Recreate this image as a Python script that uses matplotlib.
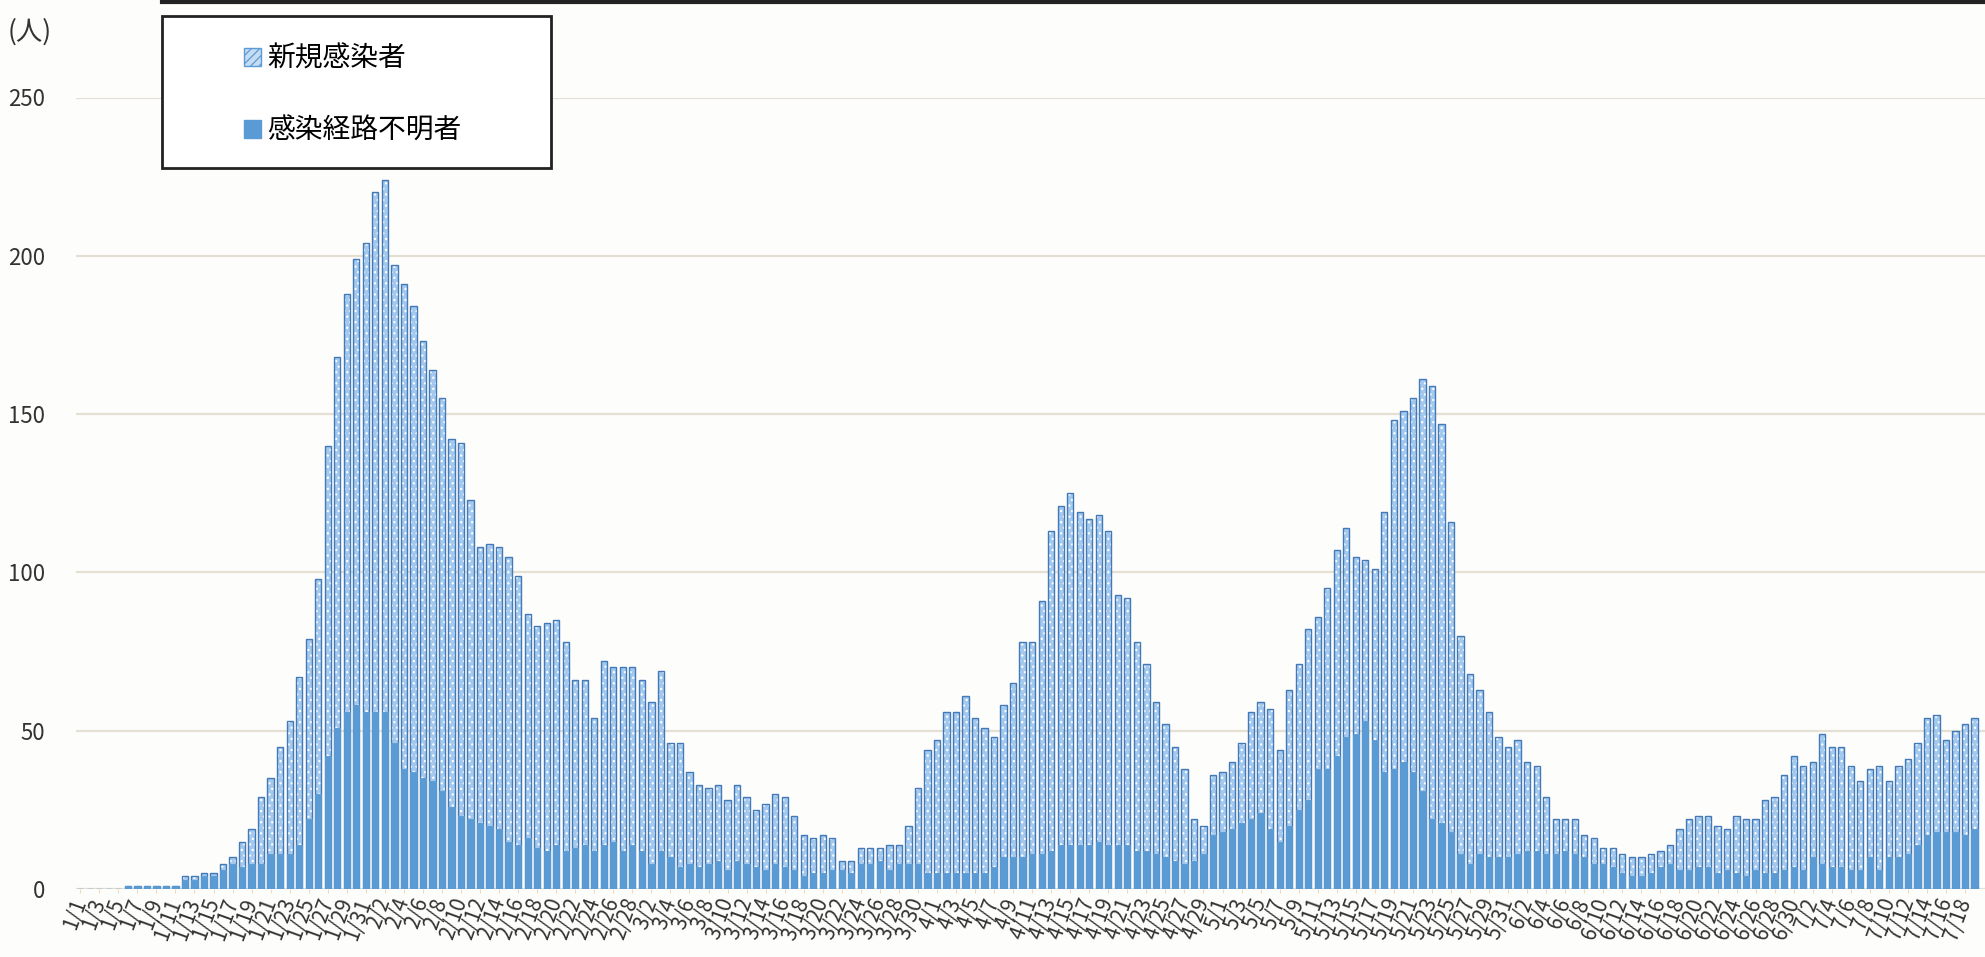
import numpy as np
import pandas as pd
import matplotlib
matplotlib.use("Agg")
import matplotlib.pyplot as plt
from matplotlib.patches import Patch, Rectangle
from matplotlib.lines import Line2D

plt.rcParams['font.family'] = ['Noto Sans CJK JP', 'DejaVu Sans']
plt.rcParams['hatch.linewidth'] = 0.9

# daily categories 1/1 .. 7/19 (2021)
dates = pd.date_range("2021-01-01", "2021-07-19", freq="D")
tick_labels = [f"{d.month}/{d.day}" for d in dates]
y_ticks = [0, 50, 100, 150, 200, 250]
series_names = ["新規感染者", "感染経路不明者"]

new_cases = [
    0, 0, 0, 0, 0, 1, 1, 1, 1, 1,
    1, 4, 4, 5, 5, 8, 10, 15, 19, 29,
    35, 45, 53, 67, 79, 98, 140, 168, 188, 199,
    204, 220, 224, 197, 191, 184, 173, 164, 155, 142,
    141, 123, 108, 109, 108, 105, 99, 87, 83, 84,
    85, 78, 66, 66, 54, 72, 70, 70, 70, 66,
    59, 69, 46, 46, 37, 33, 32, 33, 28, 33,
    29, 25, 27, 30, 29, 23, 17, 16, 17, 16,
    9, 9, 13, 13, 13, 14, 14, 20, 32, 44,
    47, 56, 56, 61, 54, 51, 48, 58, 65, 78,
    78, 91, 113, 121, 125, 119, 117, 118, 113, 93,
    92, 78, 71, 59, 52, 45, 38, 22, 20, 36,
    37, 40, 46, 56, 59, 57, 44, 63, 71, 82,
    86, 95, 107, 114, 105, 104, 101, 119, 148, 151,
    155, 161, 159, 147, 116, 80, 68, 63, 56, 48,
    45, 47, 40, 39, 29, 22, 22, 22, 17, 16,
    13, 13, 11, 10, 10, 11, 12, 14, 19, 22,
    23, 23, 20, 19, 23, 22, 22, 28, 29, 36,
    42, 39, 40, 49, 45, 45, 39, 34, 38, 39,
    34, 39, 41, 46, 54, 55, 47, 50, 52, 54,
]

unknown_route = [
    0, 0, 0, 0, 0, 1, 1, 1, 1, 1,
    1, 3, 3, 4, 4, 6, 8, 7, 8, 8,
    11, 11, 11, 14, 22, 30, 42, 51, 56, 58,
    56, 56, 56, 46, 38, 37, 35, 34, 31, 26,
    23, 22, 21, 20, 19, 15, 14, 16, 13, 12,
    14, 12, 13, 14, 12, 14, 15, 12, 14, 12,
    8, 12, 10, 7, 8, 7, 8, 9, 6, 9,
    8, 7, 6, 8, 7, 6, 4, 5, 5, 6,
    6, 5, 8, 8, 9, 6, 8, 8, 8, 5,
    5, 5, 5, 5, 5, 5, 7, 10, 10, 10,
    11, 11, 12, 14, 14, 14, 14, 15, 14, 14,
    14, 12, 12, 11, 10, 9, 8, 9, 11, 17,
    18, 19, 21, 22, 24, 19, 15, 20, 25, 28,
    38, 38, 42, 48, 49, 53, 47, 37, 38, 40,
    37, 31, 22, 21, 18, 11, 8, 11, 10, 10,
    10, 11, 12, 12, 11, 11, 12, 11, 10, 8,
    8, 7, 5, 4, 4, 5, 7, 8, 6, 6,
    7, 7, 5, 6, 5, 4, 6, 5, 5, 6,
    7, 6, 10, 8, 7, 7, 6, 6, 10, 6,
    10, 10, 11, 14, 17, 18, 18, 18, 17, 19,
]

W, H = 1985, 957
fig = plt.figure(figsize=(W / 100, H / 100), dpi=100)
fig.patch.set_facecolor('#fdfdfb')

# axes: 0 at y=889px, 250 at y=97.5px, first bar centre at x=80px
ax = fig.add_axes([75.5 / W, (H - 889) / H, 1 - 75.5 / W, (889 - 97.5) / H])
ax.set_facecolor('#fdfdfb')
x = np.arange(len(dates))

# hatched total bars: pale blue fill with white dots, then the dark outline
ax.bar(x, new_cases, width=0.66, color='#a3c9ee', edgecolor='white',
       hatch='...', linewidth=0, zorder=2)
ax.bar(x, new_cases, width=0.66, color='none', edgecolor='#4279b6',
       linewidth=1.0, zorder=2.5)
ax.bar(x, unknown_route, width=0.66, color='#5b9bd5', edgecolor='#5b9bd5',
       linewidth=0.6, zorder=3)

ax.set_xlim(-0.5, len(dates) + 0.1)
ax.set_ylim(0, 250)
ax.set_yticks(y_ticks)
ax.yaxis.grid(True, color='#e4e0d4', linewidth=1.6)
ax.set_axisbelow(True)
for s in ax.spines.values():
    s.set_visible(False)
ax.tick_params(axis='y', length=0, pad=22, labelsize=16, labelcolor='#333333')

ax.set_xticks(x[::2])
ax.set_xticklabels(tick_labels[::2], rotation=70, ha='right', va='center',
                   rotation_mode='anchor', fontsize=15, color='#333333')
ax.tick_params(axis='x', length=3, color='#f0d9bd', pad=4)

fig.text(8 / W, 1 - 32 / H, "(人)", fontsize=19, va='center', ha='left',
         color='#333333')

# top border line from the scan
fig.add_artist(Line2D([162 / W, 1], [1 - 2 / H, 1 - 2 / H], color='#222222',
                      lw=3, transform=fig.transFigure))

# legend box
fig.add_artist(Rectangle((162 / W, 1 - 168 / H), (551 - 162) / W, (168 - 16) / H,
                         transform=fig.transFigure, facecolor='white',
                         edgecolor='#222222', linewidth=2, zorder=4))
handles = [Patch(facecolor='#c6dcf2', edgecolor='#5b9bd5', hatch='////'),
           Patch(facecolor='#5b9bd5', edgecolor='#5b9bd5')]
leg = fig.legend(handles, series_names, loc='upper left',
                 bbox_to_anchor=(230 / W, 1 - 30 / H), frameon=False,
                 fontsize=20, handlelength=0.6, handleheight=0.6,
                 handletextpad=0.25, labelspacing=1.5, borderpad=0)
leg.set_zorder(5)

fig.savefig("out.png", dpi=100, facecolor=fig.get_facecolor())
